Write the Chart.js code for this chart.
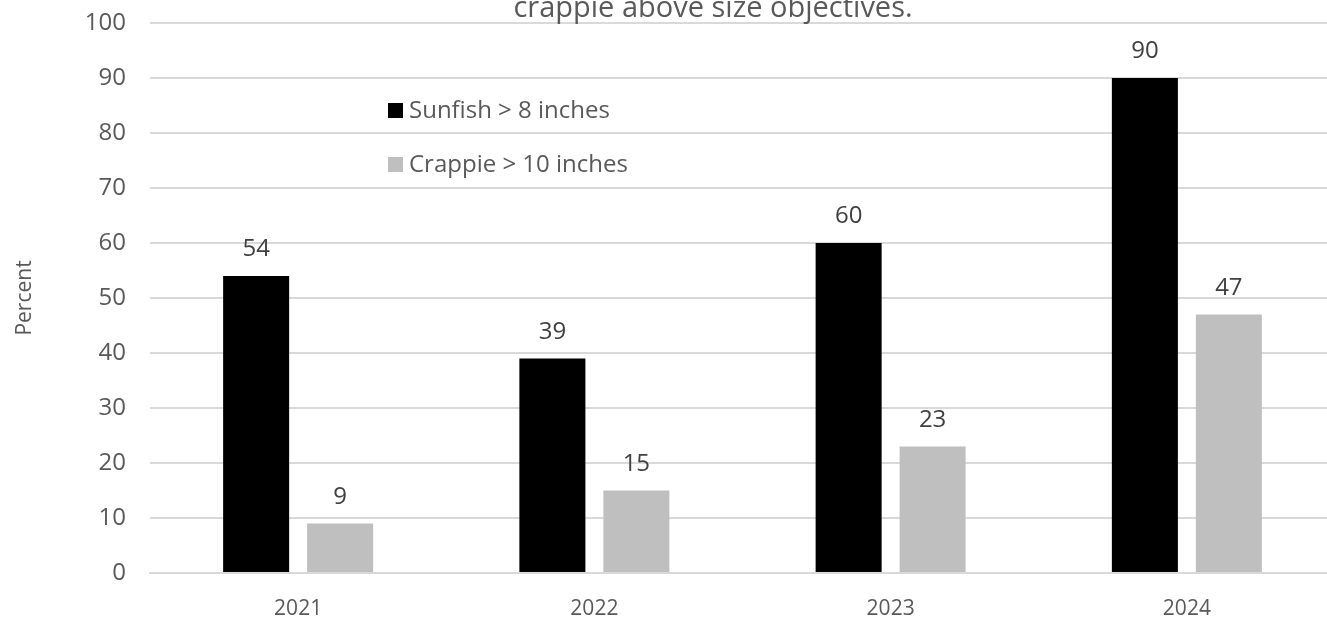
<!DOCTYPE html>
<html>
<head>
<meta charset="utf-8">
<script src="https://cdn.jsdelivr.net/npm/chart.js@4/dist/chart.umd.min.js"></script>
<style>
  html, body { margin: 0; padding: 0; background: #fff; overflow: hidden; }
  #wrap { position: relative; width: 1340px; height: 618px; }
</style>
</head>
<body>
<div id="wrap"><canvas id="sizeChart"></canvas></div>
<script>
const years = ['2021', '2022', '2023', '2024'];
const sunfish = [54, 39, 60, 90];
const crappie = [9, 15, 23, 47];
const seriesNames = ['Sunfish > 8 inches', 'Crappie > 10 inches'];
const yTicks = [0, 10, 20, 30, 40, 50, 60, 70, 80, 90, 100];
const titleText = 'crappie above size objectives.';

const FONT = '"Open Sans", sans-serif';
const TEXT = '#595959';

// value above each bar
const valueLabels = {
    id: 'valueLabels',
    afterDatasetsDraw(chart) {
        const ctx = chart.ctx;
        ctx.save();
        ctx.font = '24px ' + FONT;
        ctx.fillStyle = '#404040';
        ctx.textAlign = 'center';
        ctx.textBaseline = 'alphabetic';
        chart.data.datasets.forEach((ds, i) => {
            chart.getDatasetMeta(i).data.forEach((bar, j) => {
                ctx.fillText(ds.data[j], bar.x, bar.y - 20);
            });
        });
        ctx.restore();
    }
};

// legend box inside the plot, upper left
const innerLegend = {
    id: 'innerLegend',
    afterDraw(chart) {
        const ctx = chart.ctx;
        ctx.save();
        ctx.font = '24px ' + FONT;
        ctx.textBaseline = 'middle';
        chart.data.datasets.forEach((ds, i) => {
            const y = 111 + i * 54;
            ctx.fillStyle = ds.backgroundColor;
            ctx.fillRect(388, y - 8, 15, 15);
            ctx.fillStyle = TEXT;
            ctx.fillText(ds.label, 409, y);
        });
        ctx.restore();
    }
};

// title line, partly above the top edge
const topTitle = {
    id: 'topTitle',
    afterDraw(chart) {
        const ctx = chart.ctx;
        ctx.save();
        ctx.font = '29px ' + FONT;
        ctx.fillStyle = TEXT;
        ctx.textAlign = 'center';
        ctx.textBaseline = 'alphabetic';
        ctx.fillText(titleText, 713, 17);
        ctx.restore();
    }
};

new Chart(document.getElementById('sizeChart'), {
    type: 'bar',
    data: {
        labels: years,
        datasets: [
            { label: seriesNames[0], data: sunfish, backgroundColor: '#000000' },
            { label: seriesNames[1], data: crappie, backgroundColor: '#bfbfbf' }
        ]
    },
    options: {
        responsive: true,
        maintainAspectRatio: false,
        animation: false,
        events: [],
        layout: { padding: { top: 0, right: 5, bottom: 0, left: 0 } },
        datasets: { bar: { categoryPercentage: 0.567, barPercentage: 0.786 } },
        plugins: {
            legend: { display: false },
            tooltip: { enabled: false }
        },
        scales: {
            x: {
                grid: { display: false, drawTicks: false },
                border: { color: '#d9d9d9', width: 2 },
                ticks: { color: TEXT, font: { family: FONT, size: 21 }, padding: 23 },
                afterFit(scale) { scale.height = 45; }
            },
            y: {
                min: 0,
                max: 100,
                afterBuildTicks(scale) { scale.ticks = yTicks.map(v => ({ value: v })); },
                grid: { color: '#d9d9d9', lineWidth: 2, drawTicks: false },
                border: { display: false },
                ticks: { color: TEXT, font: { family: FONT, size: 24 }, padding: 24 },
                title: { display: true, text: 'Percent', color: TEXT, font: { family: FONT, size: 21 }, padding: { top: 12, bottom: 0 } },
                afterFit(scale) {
                    scale.width = 150;
                    scale.paddingTop = 23;
                    scale.paddingBottom = 0;
                }
            }
        }
    },
    plugins: [valueLabels, innerLegend, topTitle]
});
</script>
</body>
</html>
